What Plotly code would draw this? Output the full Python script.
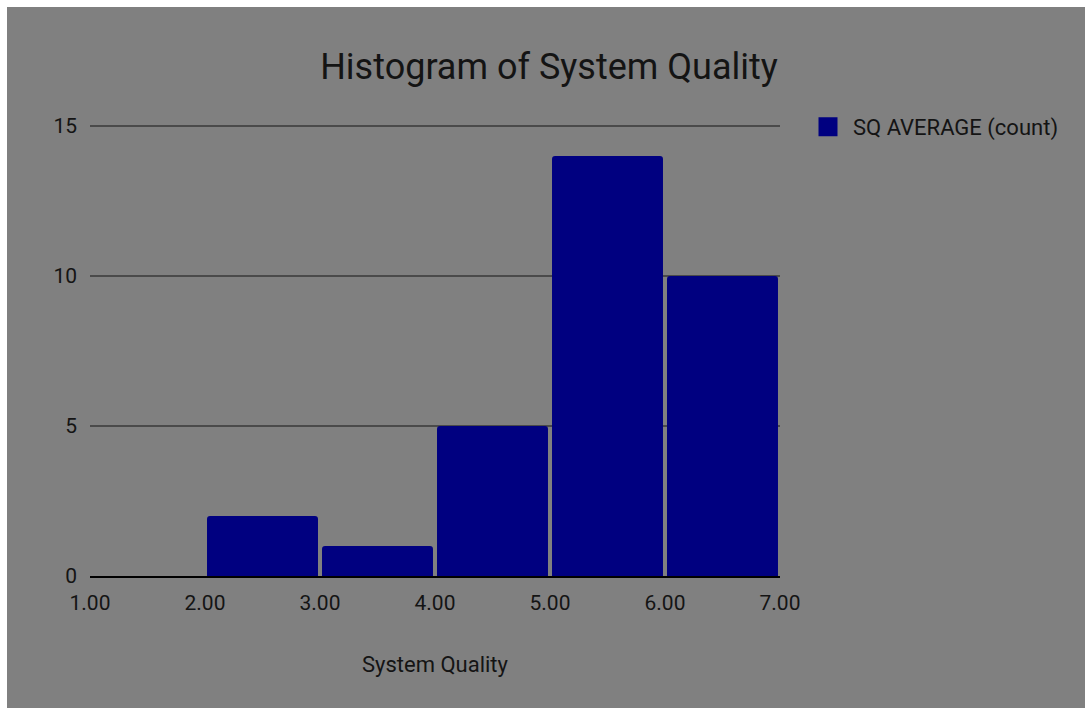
import plotly.graph_objects as go

# Histogram bins of the averaged System Quality score
bin_starts = [1, 2, 3, 4, 5, 6]
bin_width = 1
counts = [0, 2, 1, 5, 14, 10]
x_ticks = [1, 2, 3, 4, 5, 6, 7]
y_ticks = [0, 5, 10, 15]
series_name = "SQ AVERAGE (count)"

W, H = 1085, 708
L, R, T, B = 90, 305, 123, 132
BG = "#808080"
BAR = "#000080"
TXT = "#141414"
FONT = "Roboto"
GAP = 0.035  # fraction of a bin left empty between neighbouring bars

fig = go.Figure()
fig.add_trace(go.Bar(
    x=bin_starts, y=counts,
    width=bin_width * (1 - GAP), offset=bin_width * GAP / 2,
    marker=dict(color=BAR, line=dict(width=0), cornerradius=3),
    showlegend=False, name=series_name,
))
# legend entry drawn with a square marker
fig.add_trace(go.Scatter(
    x=[None], y=[None], mode="markers", name=series_name,
    marker=dict(symbol="square", size=16, color=BAR, line=dict(color=BAR, width=3)),
))

pw = W - L - R
ph = H - T - B
# grey panel with a thin white strip at the top and left edges
fig.add_shape(
    type="rect", xref="paper", yref="paper", layer="below",
    x0=(7 - L) / pw, x1=(W - L) / pw,
    y0=-(H - T - ph) / ph - 0.01, y1=1 + (T - 7) / ph,
    fillcolor=BG, line=dict(width=0),
)

fig.update_layout(
    width=W, height=H,
    margin=dict(l=L, r=R, t=T, b=B),
    paper_bgcolor="white", plot_bgcolor="rgba(0,0,0,0)",
    font=dict(family=FONT, size=21, color=TXT),
    title=dict(text="Histogram of System Quality", x=549 / W, xanchor="center",
               y=1 - 66 / H, yanchor="middle", font=dict(size=36, color=TXT)),
    legend=dict(x=(803 - L) / pw, y=1 + 17 / ph, xanchor="left", yanchor="top",
                itemwidth=40,
                bgcolor="rgba(0,0,0,0)", font=dict(size=22, color=TXT)),
    xaxis=dict(range=[1, 7], tickvals=x_ticks, tickformat=".2f", showgrid=False,
               showline=True, linecolor="#000000", linewidth=2, zeroline=False,
               ticks="", ticklabelstandoff=7,
               title=dict(text="System Quality", standoff=42, font=dict(size=22))),
    yaxis=dict(range=[0, 15.1], tickvals=y_ticks, showgrid=True, gridcolor="#4a4a4a",
               gridwidth=1.5, zeroline=False, showline=False, ticks="",
               ticklabelstandoff=12),
)

fig.write_html("out.html")
